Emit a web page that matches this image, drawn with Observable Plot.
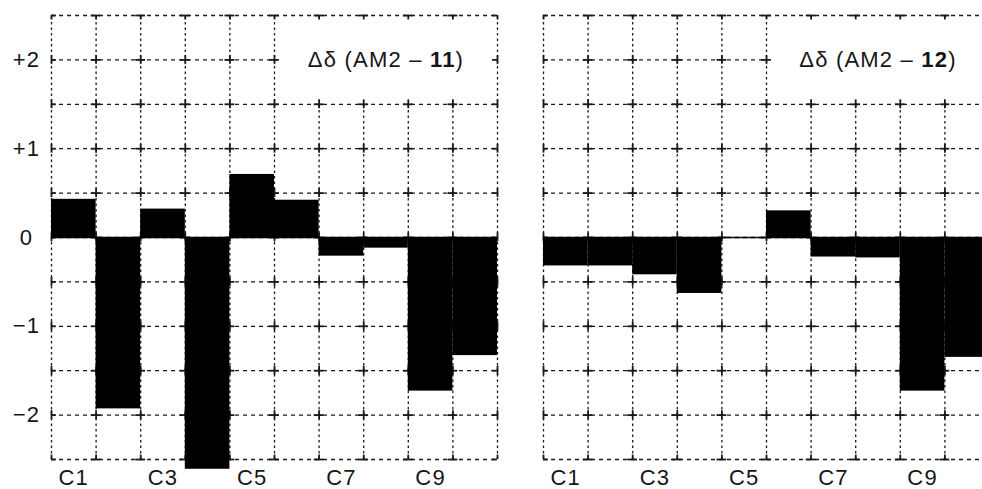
<!DOCTYPE html>
<html><head><meta charset="utf-8">
<script src="https://cdn.jsdelivr.net/npm/d3@7"></script>
<script src="https://cdn.jsdelivr.net/npm/@observablehq/plot@0.6"></script>
<style>
html,body{margin:0;padding:0;background:#fff;overflow:hidden;}
#wrap{position:relative;width:982px;height:489px;overflow:hidden;background:#fff;}
.panel{position:absolute;top:0;height:489px;}
.panel svg{overflow:visible;}
.panel text{font-family:"Liberation Sans",Arial,Helvetica,sans-serif;letter-spacing:1.2px;fill:#151515;}
</style></head><body><div id="wrap"></div>
<script>
// ---- data ----
const categories = ["C1","C2","C3","C4","C5","C6","C7","C8","C9","C10"];
const deltaAM2_11 = [0.43, -1.93, 0.32, -2.61, 0.71, 0.42, -0.21, -0.12, -1.73, -1.33];
const deltaAM2_12 = [-0.32, -0.32, -0.42, -0.63, 0.0, 0.30, -0.22, -0.23, -1.73, -1.35];
const yTicks = [-2, -1, 0, 1, 2];
const yTickLabels = ["\u22122", "\u22121", "0", "+1", "+2"];
const xTickLabels = ["C1", "C3", "C5", "C7", "C9"];
const gridY = [-2.5, -2, -1.5, -1, -0.5, 0, 0.5, 1, 1.5, 2, 2.5];
const titlePrefix = "\u0394\u03b4 (AM2 \u2013 ";
const compounds = ["11", "12"];

// ---- layout helpers ----
const bounds = categories.map((c, i) => i).concat([categories.length]); // cell boundaries 0..10
const ink = "#1a1a1a";

function makePanel(values, compound, showY, opts) {
  const bars = categories.map((c, i) => ({cat: c, i, v: values[i]}));
  const inBox = (b, y) => b > 5 && b < 10 && y > 1.5 && y < 2.5;
  const crosses = [];
  for (const b of bounds) for (const y of gridY) {
    if (inBox(b, y)) continue;
    crosses.push({b, y});
  }
  const xTickPos = xTickLabels.map(l => categories.indexOf(l) + 0.5);
  const title = titlePrefix + compound + ")";
  const plot = Plot.plot({
    width: opts.width, height: 489,
    marginLeft: opts.ml, marginRight: opts.mr, marginTop: 15, marginBottom: 30,
    x: {domain: [0, categories.length], axis: null},
    y: {domain: [-2.5, 2.5], axis: null},
    style: {fontSize: "22px", fontFamily: "Liberation Sans, Arial, sans-serif", background: "white", overflow: "visible"},
    marks: [
      // horizontal dashed grid (incl. top/bottom frame)
      Plot.ruleY(gridY, {y: d => d, x1: 0, x2: d => (d === 2 ? 5 : categories.length), stroke: ink, strokeWidth: 1.3, strokeDasharray: "4,4"}),
      // vertical dotted grid (incl. left/right frame)
      Plot.ruleX(bounds, {x: d => d, y1: -2.5, y2: d => (d > 5 && d < 10 ? 1.5 : 2.5), stroke: ink, strokeWidth: 1.3, strokeDasharray: "2.5,3"}),
      // crosses at intersections
      Plot.ruleY(crosses, {y: "y", x1: d => Math.max(0, d.b - 0.11), x2: d => Math.min(categories.length, d.b + 0.11), stroke: ink, strokeWidth: 1.8}),
      Plot.ruleX(crosses, {x: "b", y1: d => Math.max(-2.5, d.y - 0.05), y2: d => Math.min(2.5, d.y + 0.05), stroke: ink, strokeWidth: 1.8}),
      // bars
      Plot.rectY(bars, {x1: "i", x2: d => d.i + 1, y1: 0, y2: "v", fill: "black"}),
      Plot.ruleY([0], {stroke: "black", strokeWidth: 1.5}),
      // title
      Plot.text([title], {x: 7.5, y: 2, text: d => d, textAnchor: "middle", fontSize: 22, fill: "#151515"}),
      // axes
      showY ? Plot.axisY(yTicks, {tickSize: 0, tickPadding: 25, textAnchor: "middle", tickFormat: d => yTickLabels[yTicks.indexOf(d)], fontSize: 22}) : null,
      Plot.axisX(xTickPos, {tickSize: 0, tickPadding: 10, tickFormat: d => categories[Math.floor(d)], fontSize: 22})
    ]
  });
  // make compound number bold
  plot.querySelectorAll("text").forEach(t => {
    if (t.textContent === title) {
      t.textContent = "";
      const ns = "http://www.w3.org/2000/svg";
      const a = document.createElementNS(ns, "tspan"); a.textContent = titlePrefix;
      const b = document.createElementNS(ns, "tspan"); b.textContent = compound; b.setAttribute("font-weight", "bold");
      const c = document.createElementNS(ns, "tspan"); c.textContent = ")";
      t.append(a, b, c);
    }
  });
  const div = document.createElement("div");
  div.className = "panel";
  div.style.left = opts.left + "px";
  div.style.width = opts.width + "px";
  div.appendChild(plot);
  document.getElementById("wrap").appendChild(div);
}

makePanel(deltaAM2_11, compounds[0], true, {left: 0, width: 520, ml: 51, mr: 23});
makePanel(deltaAM2_12, compounds[1], false, {left: 520, width: 469, ml: 23, mr: 0});
</script></body></html>
